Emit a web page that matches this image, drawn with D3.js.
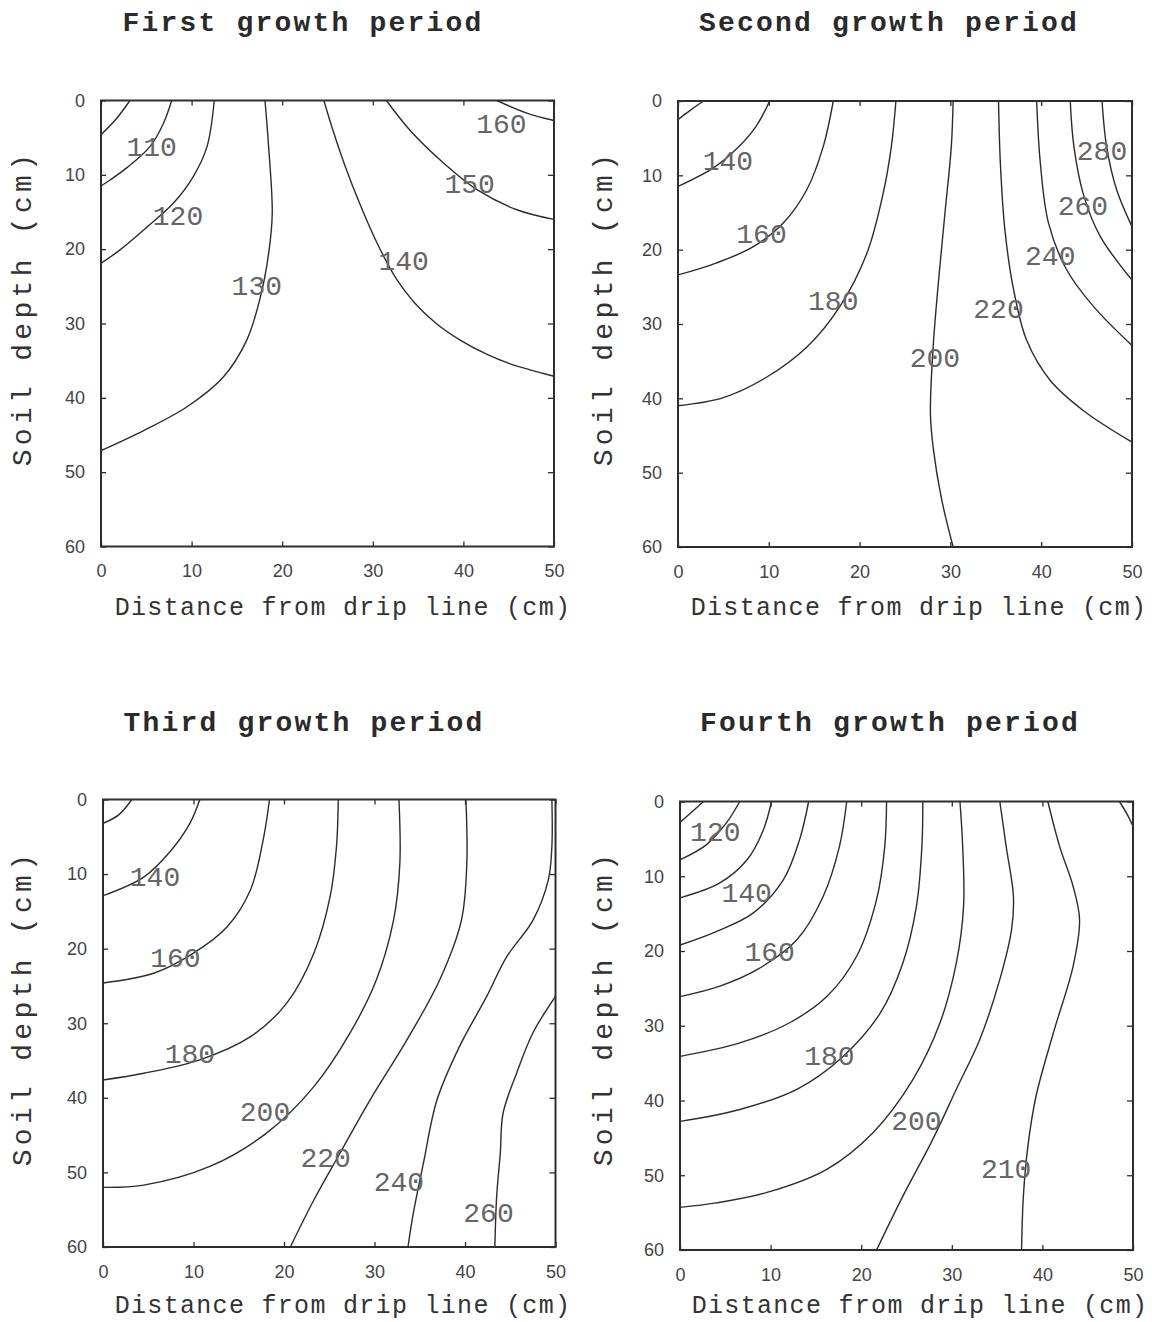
<!DOCTYPE html>
<html>
<head>
<meta charset="utf-8">
<script src="https://cdn.jsdelivr.net/npm/d3@7"></script>
<style>
  html, body { margin: 0; padding: 0; background: #ffffff; }
  svg { display: block; }
</style>
</head>
<body>
<svg id="chart" width="1152" height="1322"></svg>
<script>
// ---------------- DATA ----------------
const titles = ["First growth period", "Second growth period", "Third growth period", "Fourth growth period"];
const xAxisLabel = "Distance from drip line (cm)";
const yAxisLabel = "Soil depth (cm)";
const xTicks = [0, 10, 20, 30, 40, 50];
const yTicks = [0, 10, 20, 30, 40, 50, 60];

// Contour lines: [distance (cm), depth (cm)] points
const panel1Lines = [
  [[0,4.6],[1.6,2.6],[3.2,0]],
  [[0,11.5],[1.0,10.7],[2.9,9.0],[5.4,6.2],[6.9,3.05],[7.8,0]],
  [[0,21.9],[2.1,20.1],[5.1,17.0],[8.0,13.8],[10.2,10.2],[11.7,6.2],[12.5,0]],
  [[0,47.1],[4.7,44.4],[9.5,41.2],[13.5,37.2],[16.1,32.2],[17.6,26.4],[18.5,20.6],[18.9,15.2],[18.5,6.2],[18.1,0]],
  [[24.6,0],[25.6,4],[27.0,9],[28.6,14],[30.4,19],[32.6,24],[34.6,27.2],[37.0,30.0],[39.6,32.2],[42.5,34.1],[45.1,35.4],[50,37.1]],
  [[31.5,0],[34.1,4.0],[37.8,8.4],[41.5,12.0],[45.9,14.7],[50,16.0]],
  [[43.7,0],[47.0,1.7],[50,2.7]]
];
const panel1Labels = [["110",5.6,6.2],["120",8.5,15.4],["130",17.2,24.8],["140",33.4,21.5],["150",40.7,11.1],["160",44.2,3.1]];

const panel2Lines = [
  [[0,2.5],[1.3,1.3],[2.8,0]],
  [[0,11.5],[3.9,9.0],[6.4,6.5],[8.6,3.4],[10.1,0]],
  [[0,23.4],[4.2,21.8],[8.3,19.6],[11.6,16.4],[14.2,11.9],[16.0,6.1],[17.1,0]],
  [[0,41.0],[5.0,39.9],[9.7,37.2],[14.2,33.1],[17.8,27.7],[20.8,20.5],[22.6,12.4],[23.5,6.1],[24.0,0]],
  [[30.3,0],[30.1,6.1],[29.4,15.1],[28.7,24.1],[28.1,33.1],[27.8,42.1],[28.1,46.6],[29.0,53.4],[30.3,60]],
  [[35.3,0],[35.5,8.3],[36.0,17.3],[36.9,25.0],[38.4,32.2],[41.0,37.6],[44.7,41.7],[50,45.9]],
  [[39.5,0],[39.9,8.3],[40.8,16.4],[42.8,22.7],[45.8,27.7],[50,32.9]],
  [[43.2,0],[43.6,6.1],[44.7,12.8],[46.5,18.2],[50,24.1]],
  [[46.7,0],[47.2,6.1],[48.3,11.9],[50,16.9]]
];
const panel2Labels = [["140",5.5,7.9],["160",9.2,17.8],["180",17.1,26.8],["200",28.3,34.4],["220",35.3,27.9],["240",41.0,20.7],["260",44.6,14.0],["280",46.7,6.6]];

const panel3Lines = [
  [[0,3.2],[1.7,2.1],[3.2,0]],
  [[0,12.9],[4.5,10.4],[7.4,7.0],[9.6,3.2],[10.7,0]],
  [[0,24.6],[5.6,23.3],[10.0,20.6],[13.7,17.1],[16.3,12.1],[17.7,5.4],[18.4,0]],
  [[0,37.6],[4.5,36.7],[10.7,34.9],[16.3,31.8],[20.3,27.3],[23.3,20.6],[25.1,13.0],[25.8,6.3],[26.0,0]],
  [[0,52.0],[4.5,51.7],[11.8,49.2],[18.1,44.7],[23.3,38.5],[27.3,31.3],[30.2,24.2],[32.1,16.2],[32.8,8.6],[32.7,0]],
  [[40.1,0],[40.2,8.6],[39.6,16.2],[37.2,24.2],[33.6,32.2],[29.5,40.3],[26.2,47.4],[23.3,53.7],[20.7,60]],
  [[49.6,0],[49.6,6.3],[49.2,10.8],[47.5,16.2],[44.6,21.1],[42.4,26.4],[39.4,33.1],[36.9,40.3],[35.4,48.8],[34.3,55.4],[33.7,60]],
  [[50,26.4],[47.5,31.3],[45.7,36.7],[44.2,42.1],[43.9,47.4],[43.5,53.2],[43.3,60]]
];
const panel3Labels = [["140",5.75,10.3],["160",8.0,21.1],["180",9.6,34.0],["200",17.9,41.8],["220",24.6,47.9],["240",32.7,51.2],["260",42.6,55.3]];

const panel4Lines = [
  [[0,2.8],[1.3,1.4],[2.6,0]],
  [[0,7.8],[2.9,5.8],[5.1,2.9],[6.6,0]],
  [[0,12.9],[4.4,10.9],[7.4,7.8],[9.2,3.8],[10.1,0]],
  [[0,19.2],[4.0,17.4],[8.1,14.9],[11.4,10.5],[13.2,5.1],[14.2,0]],
  [[0,26.1],[4.4,24.7],[8.5,22.5],[12.9,18.5],[15.8,12.7],[17.6,6.0],[18.4,0]],
  [[0,34.1],[6.6,32.3],[12.1,29.6],[16.2,26.1],[19.5,20.7],[21.7,13.1],[22.6,6.0],[22.8,0]],
  [[0,42.8],[6.6,41.2],[12.9,38.5],[18.0,34.1],[22.1,28.3],[24.6,21.6],[26.1,14.0],[26.7,6.0],[26.8,0]],
  [[0,54.3],[4.0,53.7],[9.6,52.3],[16.2,49.2],[21.3,44.3],[25.7,37.2],[28.7,29.6],[30.5,21.6],[31.3,14.0],[31.2,6.0],[30.9,0]],
  [[35.3,0],[36.0,6.0],[36.8,12.7],[36.6,17.1],[35.3,23.8],[33.1,31.8],[30.5,38.5],[27.9,45.2],[24.6,52.8],[21.7,60]],
  [[40.6,0],[41.9,6.0],[43.4,11.4],[44.1,15.8],[43.4,22.0],[41.2,31.0],[39.3,39.4],[38.4,46.1],[37.9,52.8],[37.7,60]],
  [[48.5,0],[49.3,1.6],[50,3.3]]
];
const panel4Labels = [["120",3.9,4.0],["140",7.35,12.2],["160",9.9,20.0],["180",16.5,33.9],["200",26.1,42.6],["210",36.0,49.0]];

// ---------------- LAYOUT ----------------
const panels = [
  {title: titles[0], lines: panel1Lines, labels: panel1Labels, x0:101, x1:554, y0:100.5, y1:546.5, tx:303, ty:31, xlx:343, xly:615, ylx:31, yly:308},
  {title: titles[1], lines: panel2Lines, labels: panel2Labels, x0:678, x1:1132, y0:101, y1:547, tx:889, ty:31, xlx:919, xly:615, ylx:612, yly:308},
  {title: titles[2], lines: panel3Lines, labels: panel3Labels, x0:103, x1:555.5, y0:799.5, y1:1247, tx:304, ty:731, xlx:343, xly:1313, ylx:31, yly:1008},
  {title: titles[3], lines: panel4Lines, labels: panel4Labels, x0:680, x1:1133, y0:801.5, y1:1250, tx:890, ty:731, xlx:920, xly:1313, ylx:612, yly:1008}
];

const svg = d3.select("#chart");
const ink = "#2e2e2e";

panels.forEach((p, i) => {
  const x = d3.scaleLinear().domain([0, 50]).range([p.x0, p.x1]);
  const y = d3.scaleLinear().domain([0, 60]).range([p.y0, p.y1]);
  const g = svg.append("g");

  const clipId = "clip" + i;
  svg.append("clipPath").attr("id", clipId)
    .append("rect").attr("x", p.x0).attr("y", p.y0)
    .attr("width", p.x1 - p.x0).attr("height", p.y1 - p.y0);

  // Contour lines
  const line = d3.line().x(d => x(d[0])).y(d => y(d[1])).curve(d3.curveCatmullRom.alpha(0.5));
  g.append("g").attr("clip-path", `url(#${clipId})`)
    .selectAll("path").data(p.lines).join("path")
    .attr("d", line)
    .attr("fill", "none")
    .attr("stroke", "#2c2c2c")
    .attr("stroke-width", 1.4);

  // Contour labels
  g.append("g").selectAll("text").data(p.labels).join("text")
    .attr("x", d => x(d[1]))
    .attr("y", d => y(d[2]))
    .attr("dy", "0.35em")
    .attr("text-anchor", "middle")
    .attr("font-family", "'Liberation Mono', 'DejaVu Sans Mono', monospace")
    .attr("font-size", 28)
    .attr("fill", "#666")
    .text(d => d[0]);

  // Axes (inward ticks)
  const styleAxis = sel => {
    sel.select(".domain").remove();
    sel.selectAll(".tick line").attr("stroke", ink).attr("stroke-width", 1.3);
    sel.selectAll(".tick text")
      .attr("font-family", "'Liberation Sans', Arial, sans-serif")
      .attr("font-size", 18)
      .attr("fill", "#444");
  };
  g.append("g").attr("transform", `translate(${p.x0},0)`)
    .call(d3.axisLeft(y).tickValues(yTicks).tickSize(-5).tickPadding(16).tickFormat(d3.format("d")))
    .call(styleAxis);
  g.append("g").attr("transform", `translate(0,${p.y1})`)
    .call(d3.axisBottom(x).tickValues(xTicks).tickSize(-5).tickPadding(18).tickFormat(d3.format("d")))
    .call(styleAxis);
  g.append("g").attr("transform", `translate(${p.x1},0)`)
    .call(d3.axisRight(y).tickValues(yTicks).tickSize(-6).tickFormat(""))
    .call(styleAxis);
  g.append("g").attr("transform", `translate(0,${p.y0})`)
    .call(d3.axisTop(x).tickValues(xTicks).tickSize(-5).tickFormat(""))
    .call(styleAxis);

  // Frame
  g.append("rect")
    .attr("x", x(0)).attr("y", y(0))
    .attr("width", x(50) - x(0)).attr("height", y(60) - y(0))
    .attr("fill", "none").attr("stroke", ink).attr("stroke-width", 2);

  // Title
  g.append("text")
    .attr("x", p.tx).attr("y", p.ty)
    .attr("text-anchor", "middle")
    .attr("font-family", "'Liberation Mono', 'Courier New', monospace")
    .attr("font-weight", "bold")
    .attr("font-size", 28)
    .attr("letter-spacing", "2.2px")
    .attr("fill", "#2a2a2a")
    .text(p.title);

  // X axis label
  g.append("text")
    .attr("x", p.xlx).attr("y", p.xly)
    .attr("text-anchor", "middle")
    .attr("font-family", "'Liberation Mono', 'Courier New', monospace")
    .attr("font-size", 25)
    .attr("letter-spacing", "1.3px")
    .attr("fill", "#333")
    .text(xAxisLabel);

  // Y axis label
  g.append("text")
    .attr("transform", `translate(${p.ylx},${p.yly}) rotate(-90)`)
    .attr("text-anchor", "middle")
    .attr("font-family", "'Liberation Mono', 'Courier New', monospace")
    .attr("font-size", 28)
    .attr("letter-spacing", "4.3px")
    .attr("fill", "#333")
    .text(yAxisLabel);
});
</script>
</body>
</html>
